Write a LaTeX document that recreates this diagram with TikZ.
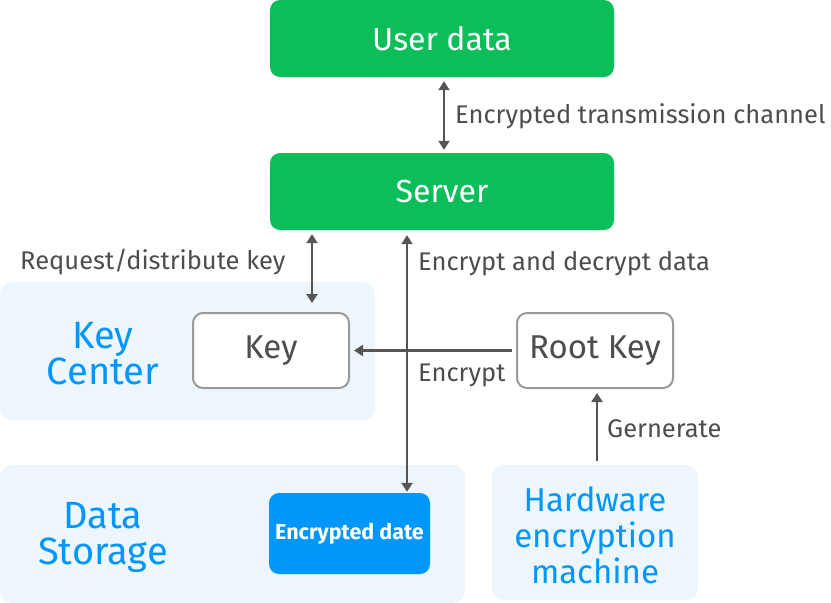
\documentclass[tikz,border=0pt]{standalone}
\usepackage{fontspec}
\setmainfont{Fira Sans}
\usetikzlibrary{arrows.meta,calc}
\definecolor{grn}{HTML}{0BBE5A}
\definecolor{bblue}{HTML}{0096FA}
\definecolor{bgblue}{HTML}{EEF6FD}
\definecolor{ink}{HTML}{4D4D4D}
\definecolor{edge}{HTML}{999999}
\definecolor{arr}{HTML}{555555}
\tikzset{
  greenbox/.style={fill=grn,rounded corners=10pt,minimum width=344pt,minimum height=77pt,text=white,font=\fontsize{32}{36}\selectfont,inner sep=0pt},
  area/.style={fill=bgblue,rounded corners=12pt,inner sep=0pt},
  areatext/.style={text=bblue,font=\fontsize{38}{36}\selectfont,align=center},
  keybox/.style={draw=edge,line width=2pt,fill=white,rounded corners=10pt,minimum width=156pt,minimum height=75pt,text=ink,font=\fontsize{33}{36}\selectfont,inner sep=0pt},
  lbl/.style={text=ink,font=\fontsize{25.5}{28}\selectfont,inner sep=0pt},
  conn/.style={draw=arr,line width=2.5pt,-{Triangle[width=11pt,length=9pt]}},
  dconn/.style={draw=arr,line width=2.5pt,{Triangle[width=11pt,length=9pt]}-{Triangle[width=11pt,length=9pt]}}
}
\begin{document}
\begin{tikzpicture}[x=1pt,y=-1pt]
\useasboundingbox (0,0) rectangle (831,603);
% areas
\node[area,minimum width=375pt,minimum height=138pt] (kcarea) at (187.5,351) {};
\node[area,minimum width=465pt,minimum height=138pt] (dsarea) at (232.5,534) {};
\node[area,minimum width=206pt,minimum height=135pt] (hwarea) at (595,532.5) {};
\node[areatext] (kctext) at (103,354) {Key\\Center};
\node[areatext] (dstext) at (103,537) {Data\\Storage};
\node[areatext,font=\fontsize{33}{36}\selectfont] (hwtext) at (595,535) {Hardware\\encryption\\machine};
% boxes
\node[greenbox] (user) at (442,38.5) {User data};
\node[greenbox] (server) at (442,191.5) {Server};
\node[keybox] (key) at (271,350.5) {Key};
\node[keybox] (root) at (595,350.5) {Root Key};
\node[fill=bblue,rounded corners=10pt,minimum width=161pt,minimum height=81pt,text=white,font=\fontsize{21.5}{24}\selectfont\bfseries,inner sep=0pt] (enc) at (349.5,533.5) {Encrypted date};
% column coordinates
\coordinate (c1) at (444,0);
\coordinate (c2) at (312,0);
\coordinate (c3) at (407,0);
\coordinate (c4) at (597,0);
% connectors
\draw[dconn,shorten <=4pt,shorten >=3pt] (user.south -| c1) -- (server.north -| c1);
\draw[dconn,shorten <=4pt,shorten >=9pt] (server.south -| c2) -- (key.north -| c2);
\draw[dconn,shorten <=5pt,shorten >=1pt] (server.south -| c3) -- (enc.north -| c3);
\draw[conn,shorten <=4pt,shorten >=4pt] (root.west) -- (key.east);
\draw[conn,shorten <=4pt,shorten >=4pt] (hwarea.north -| c4) -- (root.south -| c4);
% labels
\node[lbl,anchor=base west] (l1) at (455,123) {Encrypted transmission channel};
\node[lbl,anchor=base west] (l2) at (20,269) {Request/distribute key};
\node[lbl,anchor=base west] (l3) at (418,270) {Encrypt and decrypt data};
\node[lbl,anchor=base west] (l4) at (418,381) {Encrypt};
\node[lbl,anchor=base west] (l5) at (607,437) {Gernerate};
\end{tikzpicture}
\end{document}
